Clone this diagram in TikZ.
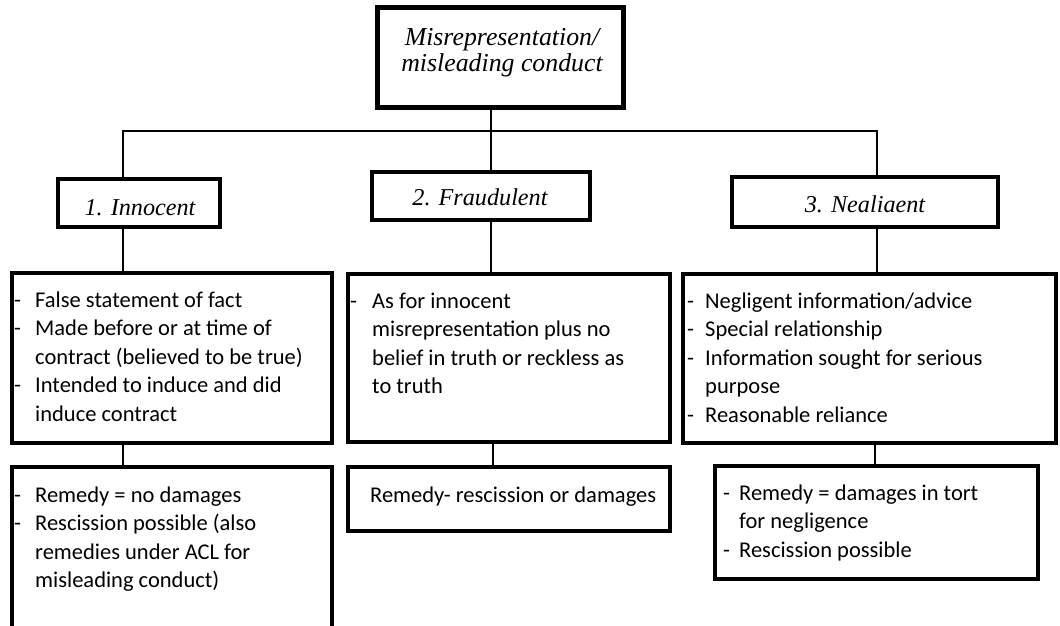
\documentclass[tikz,border=0pt]{standalone}
\usepackage{fontspec}
\setmainfont{Carlito}
\newfontfamily\titlefont{Liberation Serif}

% rectangle given by its corner points (border centre line)
\newcommand\panel[6]{%
  \node[frame=#6, minimum width={#4pt-#2pt}, minimum height={#5pt-#3pt}] (#1) at (#2,#3) {};}
% one bulleted line and a continuation line inside a text block
\newlength\dashw
\newcommand\dl[1]{\makebox[\dashw][l]{-}#1}
\newcommand\cl[1]{\hspace*{\dashw}#1}

\begin{document}
\begin{tikzpicture}[x=1pt,y=-1pt,
  frame/.style={draw=black, line width=#1, fill=white, inner sep=0pt, outer sep=0pt, anchor=north west},
  link/.style={draw=black, line width=2pt},
  body/.style={inner sep=0pt, anchor=base west, font=\fontsize{22.5}{28.5}\selectfont},
  heading/.style={inner sep=0pt, anchor=base, align=center, font=\titlefont\itshape\fontsize{24.2}{27}\selectfont}]
\useasboundingbox (0,0) rectangle (1060,626);
\clip (0,0) rectangle (1060,626);

% headings
\panel{top}{377}{8}{623}{107}{5pt}
\panel{inn}{58}{179}{220}{227}{4.5pt}
\panel{fra}{372}{172}{590}{220}{4.5pt}
\panel{neg}{732}{177}{998}{227}{4.5pt}
% conditions
\panel{innd}{12}{273}{332}{443}{4.5pt}
\panel{frad}{348}{274}{670}{442}{4.5pt}
\panel{negd}{683}{274}{1056}{443}{4.5pt}
% remedies
\panel{innr}{12}{467}{332}{628}{4.5pt}
\panel{frar}{348}{467}{670}{531}{4.5pt}
\panel{negr}{715}{466}{1038}{579}{4.5pt}

% connector columns
\coordinate (bus) at (491,131);
\coordinate (ca) at (123,0);
\coordinate (cb) at (491,0);
\coordinate (cb2) at (493,0);
\coordinate (cc) at (877,0);
\coordinate (cc2) at (875,0);

\draw[link] (top.south -| cb) -- (fra.north -| cb);
\draw[link] (inn.north -| ca) |- (bus) -| (neg.north -| cc);
\draw[link] (inn.south -| ca) -- (innd.north -| ca);
\draw[link] (fra.south -| cb) -- (frad.north -| cb);
\draw[link] (neg.south -| cc) -- (negd.north -| cc);
\draw[link] (innd.south -| ca) -- (innr.north -| ca);
\draw[link] (frad.south -| cb2) -- (frar.north -| cb2);
\draw[link] (negd.south -| cc2) -- (negr.north -| cc2);

% heading texts (base anchor sits on the last line)
\node[heading, font=\titlefont\itshape\fontsize{25.8}{27}\selectfont] (topt) at (502,72) {Misrepresentation/\\misleading conduct};
\node[heading] (innt) at (140,215) {1. Innocent};
\node[heading] (frat) at (480,205) {2. Fraudulent};
\node[heading] (negt) at (865,212) {3. Nealiaent};

% box texts
\node[body] (inndt) at (14,307) {\setlength\dashw{21pt}\parbox[t]{315pt}{%
  \dl{False statement of fact}\\
  \dl{Made before or at time of}\\
  \cl{contract (believed to be true)}\\
  \dl{Intended to induce and did}\\
  \cl{induce contract}}};
\node[body] (innrt) at (14,502) {\setlength\dashw{21pt}\parbox[t]{315pt}{%
  \dl{Remedy = no damages}\\
  \dl{Rescission possible (also}\\
  \cl{remedies under ACL for}\\
  \cl{misleading conduct)}}};
\node[body] (fradt) at (350,308) {\setlength\dashw{22pt}\parbox[t]{315pt}{%
  \dl{As for innocent}\\
  \cl{misrepresentation plus no}\\
  \cl{belief in truth or reckless as}\\
  \cl{to truth}}};
\node[body] (frart) at (370,502) {Remedy- rescission or damages};
\node[body] (negdt) at (687,308) {\setlength\dashw{18pt}\parbox[t]{365pt}{%
  \dl{Negligent information/advice}\\
  \dl{Special relationship}\\
  \dl{Information sought for serious}\\
  \cl{purpose}\\
  \dl{Reasonable reliance}}};
\node[body] (negrt) at (723,500) {\setlength\dashw{16pt}\parbox[t]{315pt}{%
  \dl{Remedy = damages in tort}\\
  \cl{for negligence}\\
  \dl{Rescission possible}}};
\end{tikzpicture}
\end{document}
